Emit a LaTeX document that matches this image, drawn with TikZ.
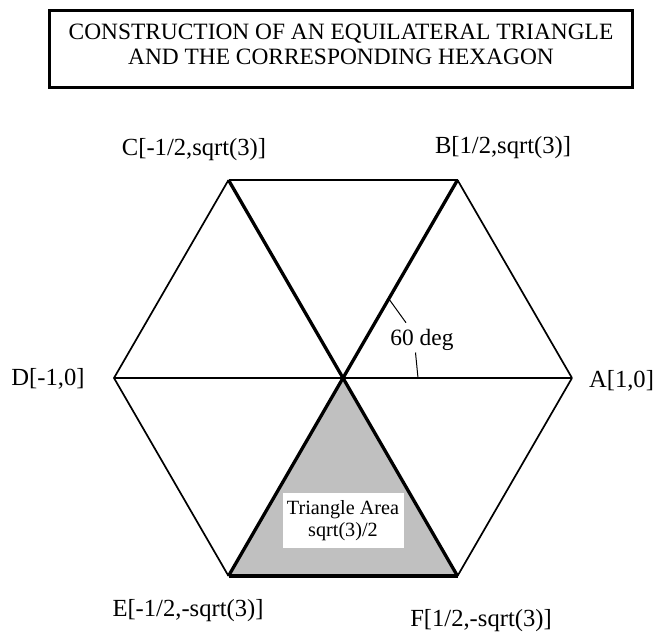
\documentclass[tikz,border=0pt]{standalone}
\usepackage{fontspec}
\setmainfont{Liberation Serif}
\usepackage{tikz}
\usetikzlibrary{positioning, calc}
\definecolor{shadegray}{RGB}{192,192,192}

\begin{document}
\begin{tikzpicture}[
  x=1pt, y=-1pt,
  titlebox/.style={draw, line width=3pt, minimum width=583pt, minimum height=77pt,
                   inner sep=0pt},
  titletext/.style={font=\fontsize{23.4}{25}\selectfont, align=center, inner sep=0pt},
  vlabel/.style={font=\fontsize{24.6}{27}\selectfont, inner sep=0pt},
  anglabel/.style={font=\fontsize{23.4}{25}\selectfont, inner sep=0pt},
  areabox/.style={fill=white, minimum width=121pt, minimum height=55pt, inner sep=0pt,
                  font=\fontsize{20.2}{22}\selectfont, align=center},
  outeredge/.style={line width=1.7pt},
  topedge/.style={line width=2.4pt},
  axisline/.style={line width=2.8pt},
  spoke/.style={line width=3.3pt},
  leader/.style={line width=1pt},
]
\useasboundingbox (0,0) rectangle (654,634);

%% Title
\node[titlebox] (frame) at (341,49.5) {};
\node[titletext] (title) at (341,44) {CONSTRUCTION OF AN EQUILATERAL TRIANGLE\\AND THE CORRESPONDING HEXAGON};

%% Hexagon vertices
\coordinate (O) at (343,378);
\coordinate (A) at (572,378);
\coordinate (B) at (457.5,180);
\coordinate (C) at (228.5,180);
\coordinate (D) at (114,378);
\coordinate (E) at (228.5,576);
\coordinate (F) at (457.5,576);

%% Shaded triangle
\fill[shadegray] (O) -- (E) -- (F) -- cycle;

%% Outer edges
\draw[outeredge] (A) -- (B);
\draw[outeredge] (C) -- (D) -- (E);
\draw[outeredge] (F) -- (A);
\draw[topedge] (C) -- (B);
\draw[spoke] (E) -- (F);

%% Through the centre
\draw[axisline] (D) -- (A);
\draw[spoke] (C) -- (F);
\draw[spoke] (B) -- (E);

%% Vertex labels
\node[vlabel] (lC) at (194,149.5) {C[-1/2,sqrt(3)]};
\node[vlabel] (lB) at (503,148) {B[1/2,sqrt(3)]};
\node[vlabel] (lD) at (48,379) {D[-1,0]};
\node[vlabel] (lA) at (621.5,380.5) {A[1,0]};
\node[vlabel] (lE) at (188,611) {E[-1/2,-sqrt(3)]};
\node[vlabel] (lF) at (481,621) {F[1/2,-sqrt(3)]};

%% Area
\node[areabox] (area) at (343,520.5) {Triangle Area\\sqrt(3)/2};

%% Angle
\node[anglabel] (deg) at (422,340) {60 deg};
\coordinate (onOB) at ($(O)!0.4!(B)$);
\coordinate (onOA) at (418,378);
\coordinate (tipOB) at (406,322.7);
\coordinate (tipOA) at (415.5,352.5);
\draw[leader] (tipOB) -- (onOB);
\draw[leader] (tipOA) -- (onOA);

\end{tikzpicture}
\end{document}
